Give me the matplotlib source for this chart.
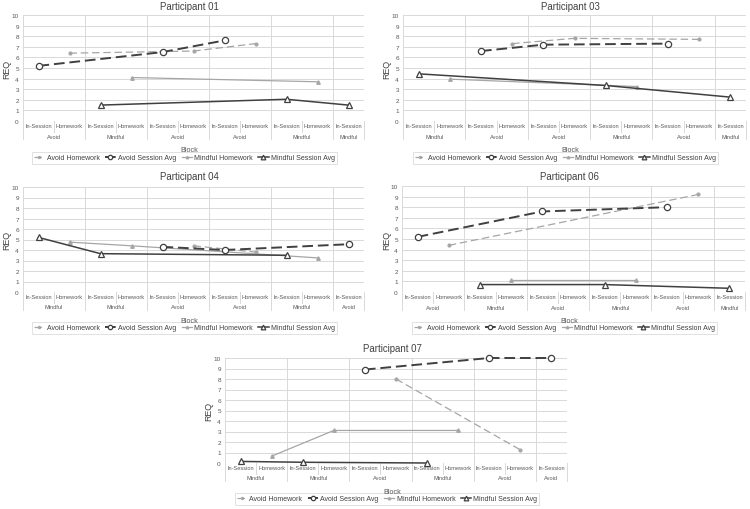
import matplotlib
matplotlib.use('Agg')
import matplotlib.pyplot as plt
from matplotlib.transforms import blended_transform_factory

plt.rcParams['font.family'] = ['Liberation Sans', 'DejaVu Sans']

N = None
categories = ["In-Session", "Homework"] * 5 + ["In-Session"]
series_names = ["Avoid Homework", "Avoid Session Avg", "Mindful Homework", "Mindful Session Avg"]
y_ticks = list(range(0, 11))

# ---- Participant 01 ----
p01_blocks = ["Avoid", "Mindful", "Avoid", "Avoid", "Mindful", "Mindful"]
p01_avoid_hw = [N, 6.4, N, N, N, 6.6, N, 7.3, N, N, N]
p01_avoid_sess = [5.2, N, N, N, 6.5, N, 7.6, N, N, N, N]
p01_mind_hw = [N, N, N, 4.1, N, N, N, N, N, 3.7, N]
p01_mind_sess = [N, N, 1.5, N, N, N, N, N, 2.05, N, 1.5]

# ---- Participant 03 ----
p03_blocks = ["Mindful", "Avoid", "Avoid", "Mindful", "Avoid", "Mindful"]
p03_avoid_hw = [N, N, N, 7.3, N, 7.8, N, N, N, 7.7, N]
p03_avoid_sess = [N, N, 6.6, N, 7.2, N, N, N, 7.3, N, N]
p03_mind_hw = [N, 3.95, N, N, N, N, N, 3.25, N, N, N]
p03_mind_sess = [4.45, N, N, N, N, N, 3.35, N, N, N, 2.25]

# ---- Participant 04 ----
p04_blocks = ["Mindful", "Mindful", "Avoid", "Avoid", "Mindful", "Avoid"]
p04_avoid_hw = [N, N, N, N, N, 4.4, N, 3.8, N, N, N]
p04_avoid_sess = [N, N, N, N, 4.3, N, 4.0, N, N, N, 4.55]
p04_mind_hw = [N, 4.75, N, 4.4, N, N, N, N, N, 3.25, N]
p04_mind_sess = [5.2, N, 3.65, N, N, N, N, N, 3.5, N, N]

# ---- Participant 06 ----
p06_blocks = ["Avoid", "Mindful", "Avoid", "Mindful", "Avoid", "Mindful"]
p06_avoid_hw = [N, 4.4, N, N, N, N, N, N, N, 9.2, N]
p06_avoid_sess = [5.2, N, N, N, 7.6, N, N, N, 8.0, N, N]
p06_mind_hw = [N, N, N, 1.1, N, N, N, 1.1, N, N, N]
p06_mind_sess = [N, N, 0.7, N, N, N, 0.7, N, N, N, 0.35]

# ---- Participant 07 ----
p07_blocks = ["Mindful", "Mindful", "Avoid", "Mindful", "Avoid", "Avoid"]
p07_avoid_hw = [N, N, N, N, N, 8.0, N, N, N, 1.25, N]
p07_avoid_sess = [N, N, N, N, 8.9, N, N, N, 10.0, N, 10.0]
p07_mind_hw = [N, 0.65, N, 3.1, N, N, N, 3.1, N, N, N]
p07_mind_sess = [0.15, N, 0.07, N, N, N, 0.0, N, N, N, N]

participants = [
    ("Participant 01", p01_blocks, p01_avoid_hw, p01_avoid_sess, p01_mind_hw, p01_mind_sess),
    ("Participant 03", p03_blocks, p03_avoid_hw, p03_avoid_sess, p03_mind_hw, p03_mind_sess),
    ("Participant 04", p04_blocks, p04_avoid_hw, p04_avoid_sess, p04_mind_hw, p04_mind_sess),
    ("Participant 06", p06_blocks, p06_avoid_hw, p06_avoid_sess, p06_mind_hw, p06_mind_sess),
    ("Participant 07", p07_blocks, p07_avoid_hw, p07_avoid_sess, p07_mind_hw, p07_mind_sess),
]

# layout in pixels: (left, right, top, bottom), title y, block-label y, legend y, REQ x
layouts = [
    ((23, 364, 16, 122), 7, 151, 159, 7),
    ((403, 746, 16, 122), 7, 151, 159, 387),
    ((23, 364, 188, 293), 177, 322, 329, 7),
    ((402, 745, 187, 293), 177, 322, 329, 387),
    ((225, 567, 359, 464), 349, 493, 500, 209),
]

W, H = 750, 510
fig = plt.figure(figsize=(W / 100, H / 100), dpi=100)
fig.patch.set_facecolor('white')

GRID = '#d9d9d9'
TXT = '#595959'
DARK = '#404040'
LIGHT = '#a6a6a6'

styles = [
    dict(color=LIGHT, lw=0.9, ls=(0, (6, 3)), marker='o', ms=2.0, mfc=LIGHT, mec=LIGHT, zorder=3),
    dict(color=DARK, lw=1.4, ls=(0, (5.5, 2.5)), marker='o', ms=4.5, mfc='white', mec=DARK, mew=0.9, zorder=5),
    dict(color=LIGHT, lw=0.9, ls='-', marker='^', ms=2.5, mfc=LIGHT, mec=LIGHT, zorder=3),
    dict(color=DARK, lw=1.1, ls='-', marker='^', ms=4.8, mfc='white', mec=DARK, mew=0.9, zorder=4),
]


def plot_series(ax, vals, st, label):
    xs = [i for i, v in enumerate(vals) if v is not None]
    ys = [v for v in vals if v is not None]
    ln, = ax.plot(xs, ys, label=label, clip_on=False, **st)
    return ln


for (title, blocks, ahw, asess, mhw, msess), (box, ty, by, ly, rx) in zip(participants, layouts):
    l, r, t, b = box
    ax = fig.add_axes([l / W, 1 - b / H, (r - l) / W, (b - t) / H])
    ax.set_facecolor('none')
    ax.set_xlim(-0.5, len(categories) - 0.5)
    ax.set_ylim(0, 10)
    for s in ax.spines.values():
        s.set_visible(False)
    ax.set_xticks([])
    ax.set_yticks(y_ticks)
    ax.set_yticklabels([str(v) for v in y_ticks])
    ax.tick_params(axis='y', length=0, pad=3, labelsize=4.6, labelcolor=TXT)
    for yv in y_ticks:
        ax.axhline(yv, color=GRID, lw=0.7, zorder=0)

    tr = blended_transform_factory(ax.transData, ax.transAxes)
    row1 = -0.104
    row2 = -0.17
    # left axis line and right table edge
    ax.plot([-0.5, -0.5], [1, row2], transform=tr, clip_on=False, color=GRID, lw=0.7, zorder=0)
    ax.plot([10.5, 10.5], [0, row2], transform=tr, clip_on=False, color=GRID, lw=0.7, zorder=0)
    # block boundaries
    for k in range(1, len(blocks)):
        xb = 2 * k - 0.5
        ax.plot([xb, xb], [1, row2], transform=tr, clip_on=False, color=GRID, lw=0.7, zorder=0)
    # category separators within blocks
    for k in range(5):
        xb = 2 * k + 0.5
        ax.plot([xb, xb], [0, row1], transform=tr, clip_on=False, color=GRID, lw=0.7, zorder=0)
    for i, c in enumerate(categories):
        ax.text(i, -0.047, c, transform=tr, ha='center', va='center', fontsize=4.1, color=TXT)
    for k, bl in enumerate(blocks):
        xc = 2 * k + 0.5 if k < 5 else 10
        ax.text(xc, -0.142, bl, transform=tr, ha='center', va='center', fontsize=4.1, color=TXT)

    handles = []
    for vals, st, nm in zip([ahw, asess, mhw, msess], styles, series_names):
        handles.append(plot_series(ax, vals, st, nm))

    cx = (l + r) / 2
    fig.text((cx - 4) / W, 1 - ty / H, title, ha='center', va='center', fontsize=6.9, color=DARK)
    fig.text((cx - 4) / W, 1 - by / H, "Block", ha='center', va='center', fontsize=5.2, color=TXT)
    fig.text(rx / W, 1 - ((t + b) / 2) / H, "REQ", ha='center', va='center', rotation=90,
             fontsize=6.4, color=DARK)
    leg = ax.legend(handles, series_names, loc='center',
                    bbox_to_anchor=((cx - 9) / W, 1 - ly / H), bbox_transform=fig.transFigure,
                    ncol=4, fontsize=5.0, frameon=True, fancybox=False, edgecolor=GRID,
                    handlelength=1.5, handletextpad=0.3, columnspacing=0.8, borderpad=0.3,
                    borderaxespad=0, labelcolor=DARK, markerscale=0.7)
    leg.get_frame().set_linewidth(0.7)

fig.savefig('out.png', dpi=100, facecolor='white')
